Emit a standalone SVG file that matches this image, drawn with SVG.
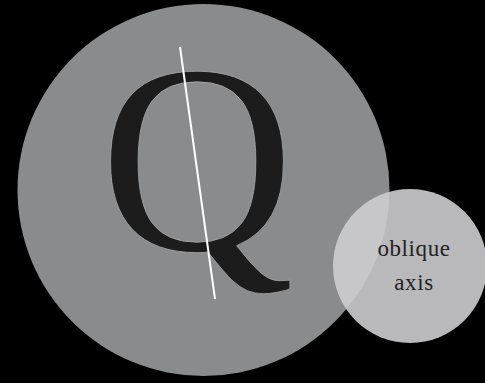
<svg xmlns="http://www.w3.org/2000/svg" width="485" height="383" viewBox="0 0 485 383">
<style>
.lbl{font-family:"Liberation Serif","Times New Roman",serif;font-size:23px;fill:#222;text-anchor:middle;letter-spacing:0.6px}
.glyph{font-family:"Liberation Serif","Times New Roman",serif;font-size:270px;fill:#1c1c1c;stroke:#a8a8a8;stroke-width:0.8;text-anchor:middle}
</style>
<rect width="485" height="383" fill="#000"/>
<g id="main-circle">
<circle cx="203.5" cy="190" r="186" fill="#8a8b8d"/>
<text class="glyph" x="197" y="250">Q</text>
</g>
<g id="connectors">
<line x1="180" y1="47" x2="215" y2="299" stroke="#fff" stroke-width="2"/>
</g>
<g id="oblique-axis">
<circle cx="410" cy="266" r="77" fill="#cdcdcf" fill-opacity="0.9"/>
<text class="lbl" x="414" y="256">oblique</text>
<text class="lbl" x="414" y="290">axis</text>
</g>
</svg>
